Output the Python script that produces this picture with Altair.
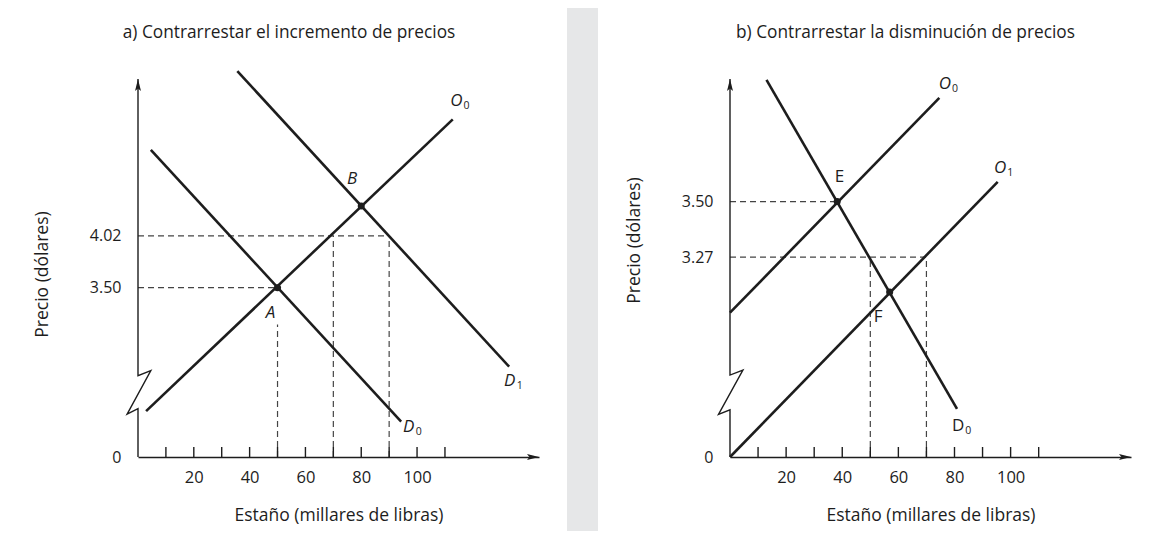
import altair as alt
import pandas as pd

FONT = "Open Sans"
INK = "#1d1d1d"
DASH = "#444444"
PANEL_BG = "white"
PAGE_BG = "#e6e7e8"

W, H = 401, 378
ARROW_UP = "M0,0 L-0.25,1 L0,0.8 L0.25,1 Z"
ARROW_RIGHT = "M0,0 L-1,-0.25 L-0.8,0 L-1,0.25 Z"

# ---------------- panel a ----------------
a_title = "a) Contrarrestar el incremento de precios"
a_xmax = 143.7
a_ylo, a_yhi = 1.80, 5.595
a_curve_name = ["D0", "D1", "O0"]
a_curve_x1 = [4.6, 35.6, 2.9]
a_curve_y1 = [4.883, 5.674, 2.26]
a_curve_x2 = [94.3, 133.0, 112.8]
a_curve_y2 = [2.155, 2.707, 5.19]
a_guide_x1 = [0, 0, 50, 70, 90]
a_guide_y1 = [3.50, 4.02, 1.80, 1.80, 1.80]
a_guide_x2 = [50, 90, 50, 70, 90]
a_guide_y2 = [3.50, 4.02, 3.13, 4.02, 4.02]
a_point_x = [50, 80]
a_point_y = [3.50, 4.32]
a_ylabels = [1.80, 3.50, 4.02]
a_break_x = [0, 0, -3.9, 4.6, 0, 0]
a_break_y = [1.80, 2.285, 2.23, 2.667, 2.617, 5.595]
a_ital_text = ["A", "B", "D", "D", "O"]
a_ital_sub = ["", "", "0", "1", "0"]
a_ital_x = [47.5, 76.7, 97.0, 133.2, 114.1]
a_ital_y = [3.25, 4.596, 2.104, 2.56, 5.373]
a_up_text = []
a_up_sub = []
a_up_x = []
a_up_y = []

# ---------------- panel b ----------------
b_title = "b) Contrarrestar la disminución de precios"
b_xmax = 142.9
b_ylo, b_yhi = 2.443, 4.007
b_curve_name = ["D0", "O0", "O1"]
b_curve_x1 = [13.0, 0.0, 0.0]
b_curve_y1 = [4.003, 3.04, 2.443]
b_curve_x2 = [80.9, 74.6, 95.4]
b_curve_y2 = [2.642, 3.929, 3.581]
b_guide_x1 = [0, 0, 50, 70]
b_guide_y1 = [3.50, 3.27, 2.443, 2.443]
b_guide_x2 = [38.2, 70, 50, 70]
b_guide_y2 = [3.50, 3.27, 3.27, 3.27]
b_point_x = [38.2, 56.9]
b_point_y = [3.50, 3.126]
b_ylabels = [2.443, 3.50, 3.27]
b_break_x = [0, 0, -4.1, 4.6, 0, 0]
b_break_y = [2.443, 2.638, 2.619, 2.803, 2.782, 4.007]
b_ital_text = ["O", "O"]
b_ital_sub = ["0", "1"]
b_ital_x = [76.6, 96.3]
b_ital_y = [3.986, 3.638]
b_up_text = ["E", "F", "D"]
b_up_sub = ["", "", "0"]
b_up_x = [39.0, 52.8, 81.3]
b_up_y = [3.602, 3.024, 2.570]

x_ticks = [10, 20, 30, 40, 50, 60, 70, 80, 90, 100, 110]
x_labels = [20, 40, 60, 80, 100]


def panel(title, title_cx, xmax, ylo, yhi, cx1, cy1, cx2, cy2,
          gx1, gy1, gx2, gy2, px, py, ylabels, bx, by,
          it_t, it_s, it_x, it_y, up_t, up_s, up_x, up_y,
          ytitle_y, rect_x, rect_x2):
    X = alt.X(
        "x:Q",
        scale=alt.Scale(domain=[0, xmax], nice=False, zero=False),
        axis=alt.Axis(values=x_labels, ticks=False, tickSize=0, grid=False,
                      domain=True, domainColor=INK, domainWidth=1.4, zindex=2,
                      labelFont=FONT, labelFontSize=16.5, labelColor=INK,
                      labelPadding=20, labelBaseline="middle", labelFlush=False,
                      titleFont=FONT, titleFontSize=17.5, titleFontWeight="normal",
                      titleColor=INK, titleY=58, titleBaseline="middle"),
        title="Estaño (millares de libras)",
    )
    Y = alt.Y(
        "y:Q",
        scale=alt.Scale(domain=[ylo, yhi], nice=False, zero=False),
        axis=alt.Axis(values=ylabels, ticks=False, tickSize=0, grid=False,
                      domain=False, zindex=2,
                      labelExpr="datum.value < %f ? '0' : format(datum.value, '.2f')" % (ylo + 0.01),
                      labelFont=FONT, labelFontSize=16, labelColor=INK,
                      labelPadding=17,
                      titleFont=FONT, titleFontSize=17.5, titleFontWeight="normal",
                      titleColor=INK, titleX=-96, titleY=ytitle_y,
                      titleBaseline="middle", titleAlign="center"),
        title="Precio (dólares)",
    )

    one = pd.DataFrame({"t": [title]})
    bg = alt.Chart(one).mark_rect(color=PANEL_BG).encode(
        x=alt.value(rect_x), x2=alt.value(rect_x2), y=alt.value(-71), y2=alt.value(452)
    )
    ttl = alt.Chart(one).mark_text(
        font=FONT, fontSize=17.3, color=INK, align="center", baseline="middle"
    ).encode(x=alt.value(title_cx), y=alt.value(-46), text="t:N")
    guides = alt.Chart(pd.DataFrame({"x": gx1, "y": gy1, "x2": gx2, "y2": gy2})).mark_rule(
        color=DASH, strokeWidth=1.2, strokeDash=[6, 4]
    ).encode(x=X, y=Y, x2="x2:Q", y2="y2:Q")
    curves = alt.Chart(pd.DataFrame({"x": cx1, "y": cy1, "x2": cx2, "y2": cy2})).mark_rule(
        color=INK, strokeWidth=2.6
    ).encode(x=X, y=Y, x2="x2:Q", y2="y2:Q")
    yaxis = alt.Chart(pd.DataFrame({"x": bx, "y": by, "o": list(range(len(bx)))})).mark_line(
        color=INK, strokeWidth=1.4
    ).encode(x=X, y=Y, order="o:Q")
    ticks = alt.Chart(pd.DataFrame({"x": x_ticks})).mark_rule(
        color=INK, strokeWidth=1.4
    ).encode(x=X, y=alt.value(H), y2=alt.value(H - 10))
    arr_up = alt.Chart(pd.DataFrame({"x": [0], "y": [yhi]})).mark_point(
        shape=ARROW_UP, filled=True, size=576, color=INK, opacity=1, strokeWidth=0
    ).encode(x=X, y=Y)
    arr_right = alt.Chart(pd.DataFrame({"x": [xmax], "y": [ylo]})).mark_point(
        shape=ARROW_RIGHT, filled=True, size=576, color=INK, opacity=1, strokeWidth=0
    ).encode(x=X, y=Y)
    dots = alt.Chart(pd.DataFrame({"x": px, "y": py})).mark_point(
        shape="circle", filled=True, size=50, color=INK, opacity=1
    ).encode(x=X, y=Y)

    layers = [bg, ttl, guides, curves, yaxis, ticks, arr_up, arr_right, dots]
    for t, s, lx, ly, style in [(it_t, it_s, it_x, it_y, "italic"), (up_t, up_s, up_x, up_y, "normal")]:
        if not t:
            continue
        df = pd.DataFrame({"x": lx, "y": ly, "t": t, "s": s})
        layers.append(alt.Chart(df).mark_text(
            font=FONT, fontSize=17, fontStyle=style, color=INK, align="center", baseline="middle"
        ).encode(x=X, y=Y, text="t:N"))
        layers.append(alt.Chart(df).mark_text(
            font=FONT, fontSize=10.5, color=INK, align="center", baseline="middle", dx=10, dy=5
        ).encode(x=X, y=Y, text="s:N"))

    return alt.layer(*layers).properties(width=W, height=H)


pa = panel(a_title, W / 2 - 49.5, a_xmax, a_ylo, a_yhi, a_curve_x1, a_curve_y1, a_curve_x2, a_curve_y2,
           a_guide_x1, a_guide_y1, a_guide_x2, a_guide_y2, a_point_x, a_point_y, a_ylabels,
           a_break_x, a_break_y, a_ital_text, a_ital_sub, a_ital_x, a_ital_y,
           a_up_text, a_up_sub, a_up_x, a_up_y, 195, -130, 429)
pb = panel(b_title, W / 2 - 25, b_xmax, b_ylo, b_yhi, b_curve_x1, b_curve_y1, b_curve_x2, b_curve_y2,
           b_guide_x1, b_guide_y1, b_guide_x2, b_guide_y2, b_point_x, b_point_y, b_ylabels,
           b_break_x, b_break_y, b_ital_text, b_ital_sub, b_ital_x, b_ital_y,
           b_up_text, b_up_sub, b_up_x, b_up_y, 161, -132, 416)

chart = alt.hconcat(pa, pb, spacing=191, bounds="flush").properties(
    padding=0, background=PAGE_BG
).configure_view(strokeWidth=0).configure_concat(spacing=191)

chart.save("out.html", embed_options={"renderer": "svg", "actions": False})
